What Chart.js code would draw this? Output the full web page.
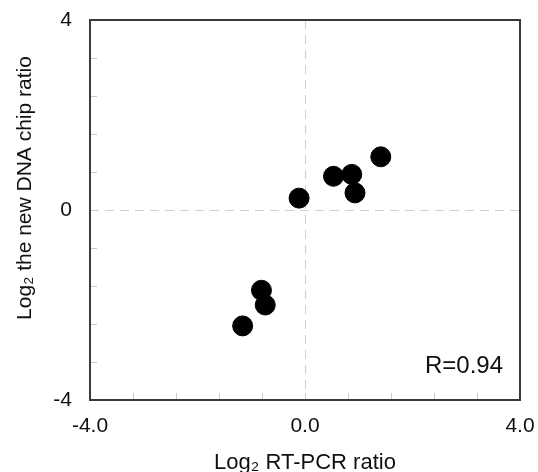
<!DOCTYPE html>
<html>
<head>
<meta charset="utf-8">
<script src="https://cdn.jsdelivr.net/npm/chart.js@4/dist/chart.umd.min.js"></script>
<style>
  html, body { margin: 0; padding: 0; background: #fff; }
  canvas { display: block; }
</style>
</head>
<body>
<canvas id="scatterChart" width="538" height="472"></canvas>
<script>
// Log2 RT-PCR ratio (x) vs Log2 new DNA chip ratio (y)
const rtPcr = [-0.11, 0.53, 0.87, 0.93, 1.41, -0.81, -0.74, -1.16]
const chipRatio = [0.25, 0.71, 0.75, 0.36, 1.12, -1.69, -2.0, -2.44]

const xTickLabels = [-4, 0, 4]
const yTickLabels = [-4, 0, 4]
const minorTicks = [-3.2, -2.4, -1.6, -0.8, 0, 0.8, 1.6, 2.4, 3.2]
const rLabel = 'R=0.94'
const yTitle = 'Log₂ the new DNA chip ratio'

const points = rtPcr.map((x, i) => ({ x: x, y: chipRatio[i] }))

const fontFam = '"Liberation Sans", Arial, sans-serif'

// frame, dashed zero lines, inner minor ticks, R label and the y title
const framePlugin = {
    id: 'frame',
    beforeDatasetsDraw(chart) {
        const ctx = chart.ctx
        const a = chart.chartArea
        const xs = chart.scales.x
        const ys = chart.scales.y
        ctx.save()
        ctx.strokeStyle = '#cfcfcf'
        ctx.lineWidth = 1
        ctx.setLineDash([9, 6])
        const x0 = Math.round(xs.getPixelForValue(0)) + 0.5
        const y0 = Math.round(ys.getPixelForValue(0)) + 0.5
        ctx.beginPath()
        ctx.moveTo(x0, a.top)
        ctx.lineTo(x0, a.bottom)
        ctx.moveTo(a.left, y0)
        ctx.lineTo(a.right, y0)
        ctx.stroke()
        ctx.setLineDash([])
        ctx.strokeStyle = '#c8c8c8'
        ctx.beginPath()
        minorTicks.forEach(v => {
            const px = Math.round(xs.getPixelForValue(v)) + 0.5
            ctx.moveTo(px, a.bottom)
            ctx.lineTo(px, a.bottom - 7)
            const py = Math.round(ys.getPixelForValue(v)) + 0.5
            ctx.moveTo(a.left, py)
            ctx.lineTo(a.left + 7, py)
        })
        ctx.stroke()
        ctx.restore()
    },
    afterDraw(chart) {
        const ctx = chart.ctx
        const a = chart.chartArea
        ctx.save()
        ctx.strokeStyle = '#3a3a3a'
        ctx.lineWidth = 2
        ctx.strokeRect(a.left, a.top, a.right - a.left, a.bottom - a.top)
        ctx.fillStyle = '#111'
        ctx.font = '24px ' + fontFam
        ctx.textAlign = 'right'
        ctx.textBaseline = 'alphabetic'
        ctx.fillText(rLabel, a.right - 17, a.bottom - 27)
        // y title sits a bit above the middle of the axis in the original
        ctx.font = '21px ' + fontFam
        ctx.textAlign = 'center'
        ctx.textBaseline = 'middle'
        ctx.translate(25, (a.top + a.bottom) / 2 - 22)
        ctx.rotate(-Math.PI / 2)
        ctx.fillText(yTitle, 0, 0)
        ctx.restore()
    }
}

const config = {
    type: 'scatter',
    data: {
        datasets: [{
            data: points,
            backgroundColor: '#000',
            borderColor: '#000',
            pointRadius: 10,
            pointHoverRadius: 10,
        }]
    },
    options: {
        responsive: false,
        animation: false,
        devicePixelRatio: 1,
        layout: { padding: { top: 20, right: 18, left: 0, bottom: 0 } },
        plugins: { legend: { display: false }, tooltip: { enabled: false } },
        scales: {
            x: {
                type: 'linear',
                min: -4,
                max: 4,
                afterBuildTicks: s => { s.ticks = xTickLabels.map(v => ({ value: v })) },
                afterFit: s => { s.height = 72; s.paddingLeft = 0; s.paddingRight = 0 },
                grid: { display: false, drawTicks: false },
                border: { display: false },
                ticks: {
                    padding: 14,
                    color: '#111',
                    font: { family: fontFam, size: 21 },
                    maxRotation: 0,
                    callback: v => v.toFixed(1),
                },
                title: {
                    display: true,
                    text: 'Log₂ RT-PCR ratio',
                    color: '#111',
                    font: { family: fontFam, size: 22 },
                    padding: { top: 4, bottom: -4 },
                },
            },
            y: {
                type: 'linear',
                min: -4,
                max: 4,
                afterBuildTicks: s => { s.ticks = yTickLabels.map(v => ({ value: v })) },
                afterFit: s => { s.width = 90; s.paddingTop = 0; s.paddingBottom = 0 },
                grid: { display: false, drawTicks: false },
                border: { display: false },
                ticks: {
                    padding: 18,
                    color: '#111',
                    font: { family: fontFam, size: 21 },
                    callback: v => String(v),
                },
            }
        }
    },
    plugins: [framePlugin]
}

const myChart = new Chart(document.getElementById('scatterChart'), config)
</script>
</body>
</html>
